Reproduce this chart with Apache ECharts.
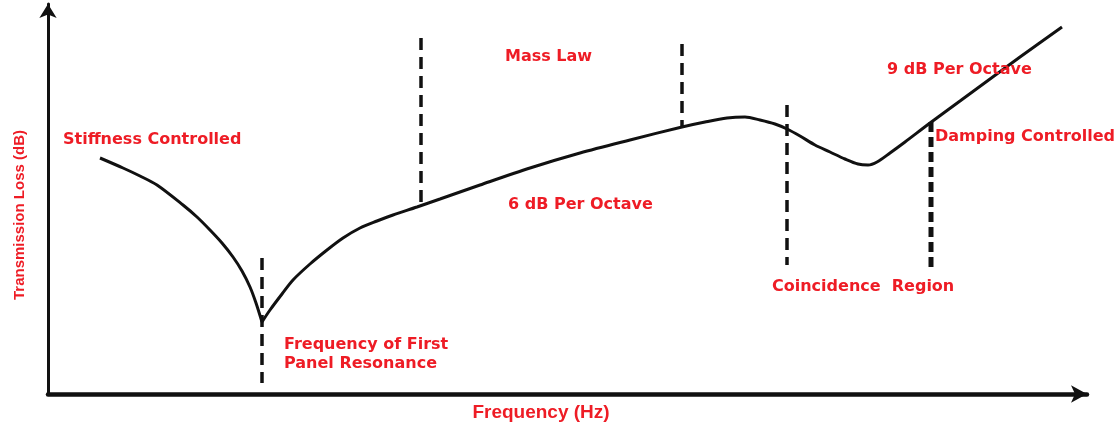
<!DOCTYPE html>
<html>
<head>
<meta charset="utf-8">
<script src="https://cdn.jsdelivr.net/npm/echarts@6/dist/echarts.min.js"></script>
<style>
  html, body { margin: 0; padding: 0; background: #fff; }
  #chart { width: 1116px; height: 430px; }
</style>
</head>
<body>
<div id="chart"></div>
<script>
// curve (arbitrary frequency / loss units)
const freq = [52, 75, 92, 109, 135, 149, 162, 174, 185, 194, 202, 208, 214,
  222, 234, 245, 262, 279, 295, 312, 329, 345, 369, 392, 432, 482, 532, 582, 634,
  657, 679, 697, 712, 727, 739, 752, 767, 782, 797, 810, 820, 829, 842, 857, 882,
  912, 942, 972, 1014];
const loss = [236, 226, 218, 209, 189, 177, 164, 151, 137, 123, 107, 91, 72,
  84, 100, 114, 130, 144, 156, 166, 173, 179, 187, 195, 209, 226, 241, 254, 267,
  272, 276, 277, 274, 270, 265, 258, 249, 242, 235, 230, 229, 232, 241, 252, 271,
  293, 315, 337, 367];

// dashed region dividers
const dividerX = [214, 373, 634, 739, 883];
const dividerTop = [136, 356, 350, 289, 272];
const dividerBottom = [11, 189, 266, 129, 126];

// annotations
const noteText = ['Stiffness Controlled', 'Frequency of First\nPanel Resonance', 'Mass Law', '6 dB Per Octave', '9 dB Per Octave', 'Damping Controlled', 'Coincidence  Region'];
const noteX = [15, 236, 457, 460, 839, 887, 724];
const noteY = [254, 40, 337, 189, 324, 257, 107];

const red = '#ee1c25';

const myChart = echarts.init(document.getElementById('chart'));

// split the curve at the resonance dip so the cusp stays sharp
const points = freq.map((f, i) => [f, loss[i]]);
const dip = loss.indexOf(Math.min(...loss));
const curveStyle = {
  type: 'line',
  smooth: 0.3,
  symbol: 'none',
  silent: true,
  lineStyle: { color: '#111', width: 3 },
  z: 3,
};

const dividerSeries = dividerX.map((x, i) => ({
  type: 'line',
  data: [[x, dividerTop[i]], [x, dividerBottom[i]]],
  symbol: 'none',
  silent: true,
  lineStyle: {
    color: '#111',
    width: i === 4 ? 5 : 3.5,
    type: i === 4 ? [10, 5] : [12, 7],
  },
  z: 2,
}));

const option = {
  animation: false,
  grid: { left: 48, right: 29, top: 4, bottom: 36 },
  xAxis: {
    type: 'value',
    min: 0,
    max: 1039,
    axisLine: {
      show: true,
      lineStyle: { color: '#111', width: 4.5 },
      symbol: ['none', 'arrow'],
      symbolSize: [13, 16],
    },
    axisTick: { show: false },
    axisLabel: { show: false },
    splitLine: { show: false },
  },
  yAxis: {
    type: 'value',
    min: 0,
    max: 390,
    axisLine: {
      show: true,
      lineStyle: { color: '#111', width: 3 },
      symbol: ['none', 'arrow'],
      symbolSize: [13, 14],
    },
    axisTick: { show: false },
    axisLabel: { show: false },
    splitLine: { show: false },
  },
  graphic: [
    {
      type: 'text',
      x: 20,
      y: 215,
      rotation: Math.PI / 2,
      style: {
        text: 'Transmission Loss (dB)',
        fill: red,
        font: 'bold 15px "Liberation Sans", Arial',
        align: 'center',
        verticalAlign: 'middle',
      },
    },
    {
      type: 'text',
      x: 541,
      y: 413,
      style: {
        text: 'Frequency (Hz)',
        fill: red,
        font: 'bold 19px "Liberation Sans Narrow", "Liberation Sans", Arial',
        align: 'center',
        verticalAlign: 'middle',
      },
    },
  ],
  series: [
    Object.assign({ data: points.slice(0, dip + 1) }, curveStyle),
    Object.assign({ data: points.slice(dip) }, curveStyle),
    ...dividerSeries,
    {
      type: 'scatter',
      symbolSize: 0,
      silent: true,
      itemStyle: { opacity: 1 },
      data: noteText.map((t, i) => ({ value: [noteX[i], noteY[i]], name: t })),
      label: {
        show: true,
        position: 'right',
        distance: 0,
        formatter: '{b}',
        color: red,
        opacity: 1,
        fontFamily: 'DejaVu Sans',
        fontWeight: 'bold',
        fontSize: 16,
        lineHeight: 19,
        align: 'left',
        verticalAlign: 'middle',
      },
      z: 4,
    },
  ],
};

myChart.setOption(option);
</script>
</body>
</html>
